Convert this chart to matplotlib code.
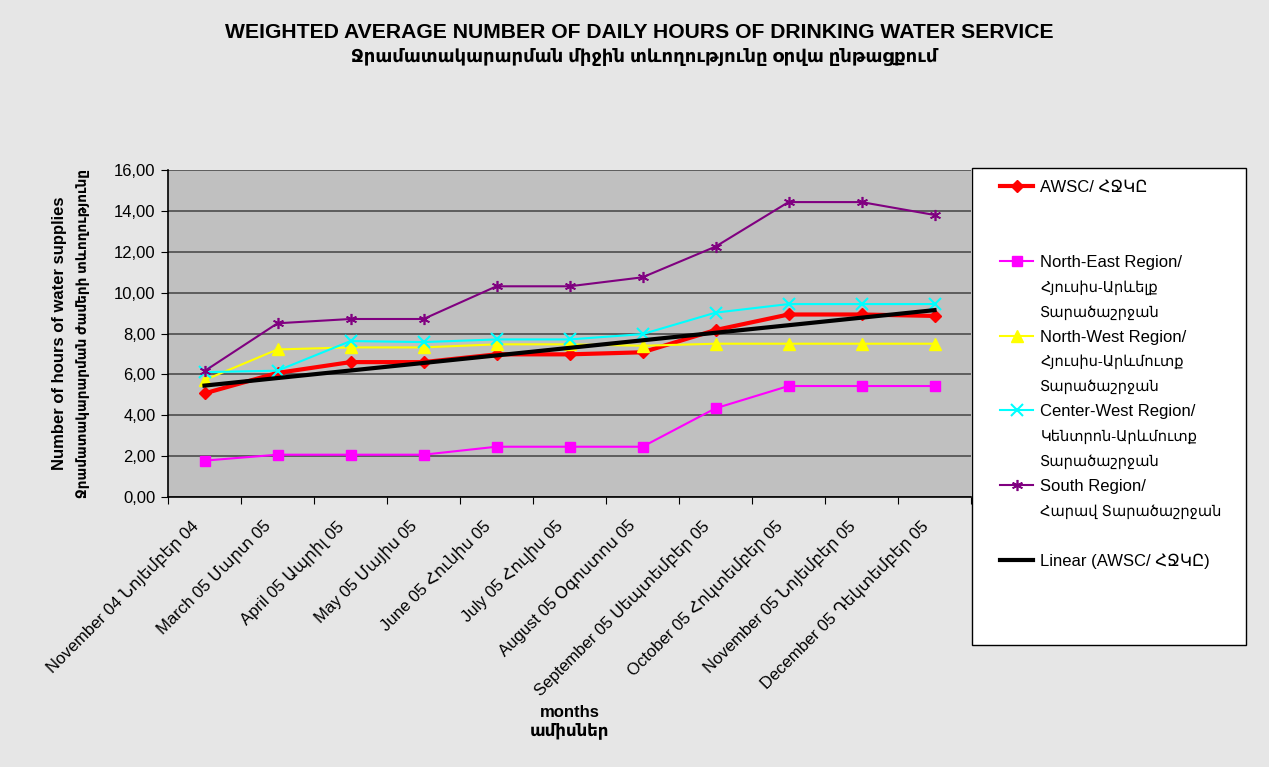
import numpy as np
import matplotlib.pyplot as plt
from matplotlib.lines import Line2D
from matplotlib.patches import Rectangle
from matplotlib.transforms import ScaledTranslation

plt.rcParams['font.family'] = ['Liberation Sans', 'DejaVu Sans']

# -------------------------
# Data
# -------------------------
months = ["November 04 Նոյեմբեր 04", "March 05 Մարտ 05", "April 05 Ապրիլ 05",
          "May 05 Մայիս 05", "June 05 Հունիս 05", "July 05 Հուլիս 05",
          "August 05 Օգոստոս 05", "September 05 Սեպտեմբեր 05",
          "October 05 Հոկտեմբեր 05", "November 05 Նոյեմբեր 05",
          "December 05 Դեկտեմբեր 05"]

awsc = [5.07, 6.07, 6.60, 6.60, 6.98, 6.98, 7.08, 8.17, 8.93, 8.93, 8.86]
north_east = [1.78, 2.07, 2.07, 2.07, 2.46, 2.46, 2.46, 4.34, 5.43, 5.43, 5.43]
north_west = [5.72, 7.22, 7.32, 7.32, 7.47, 7.47, 7.40, 7.50, 7.50, 7.50, 7.50]
center_west = [6.11, 6.18, 7.63, 7.58, 7.71, 7.71, 7.97, 9.02, 9.44, 9.44, 9.44]
south = [6.16, 8.50, 8.71, 8.71, 10.31, 10.31, 10.75, 12.25, 14.43, 14.43, 13.80]

series_labels = [
    ["AWSC/ ՀՋԿԸ"],
    ["North-East Region/", "Հյուսիս-Արևելք", "Տարածաշրջան"],
    ["North-West Region/", "Հյուսիս-Արևմուտք", "Տարածաշրջան"],
    ["Center-West Region/", "Կենտրոն-Արևմուտք", "Տարածաշրջան"],
    ["South Region/", "Հարավ Տարածաշրջան"],
]
trend_label = "Linear (AWSC/ ՀՋԿԸ)"

y_ticks = [0, 2, 4, 6, 8, 10, 12, 14, 16]

# styles per series
styles = [
    dict(color='#ff0000', lw=3.0, marker='D', ms=6.5),
    dict(color='#ff00ff', lw=1.5, marker='s', ms=7),
    dict(color='#ffff00', lw=1.5, marker='^', ms=8),
    dict(color='#00ffff', lw=1.5, marker='x', ms=8, mew=1.5),
    dict(color='#800080', lw=1.5, marker=(6, 2, 0), ms=8, mew=1.2),
]

# -------------------------
# Figure
# -------------------------
W, H = 1269, 767
fig = plt.figure(figsize=(W/100, H/100), dpi=100)
fig.patch.set_facecolor('#e6e6e6')
ax = fig.add_axes([168/W, 1-497/H, 803/W, 327/H])
ax.set_facecolor('#c0c0c0')

x = np.arange(len(months))
all_series = [awsc, north_east, north_west, center_west, south]
handles = []
for vals, st in zip(all_series, styles):
    h, = ax.plot(x, vals, **st)
    handles.append(h)

# linear trend of AWSC
coef = np.polyfit(x, awsc, 1)
trend, = ax.plot(x, np.polyval(coef, x), color='black', lw=3.0, zorder=5)

ax.set_xlim(-0.5, len(months) - 0.5)
ax.set_ylim(0, 16)
ax.set_yticks(y_ticks)
ax.set_yticklabels([f"{v:.2f}".replace('.', ',') for v in y_ticks])
ax.yaxis.grid(True, color='#555555', lw=1.3)
ax.set_axisbelow(True)

ax.set_xticks(np.arange(-0.5, len(months)))
ax.set_xticklabels([])
ax.set_xticks(x, minor=True)
ax.set_xticklabels(months, minor=True, rotation=45, ha='right', va='center',
                   rotation_mode='anchor', fontsize=12)
ax.tick_params(axis='x', which='minor', length=0, pad=19)
ax.tick_params(axis='x', which='major', length=5, direction='out')
ax.tick_params(axis='y', length=5, direction='out', labelsize=12, pad=4)
shift = ScaledTranslation(-0.09, 0, fig.dpi_scale_trans)
for lab in ax.get_xticklabels(minor=True):
    lab.set_transform(lab.get_transform() + shift)

for s in ['top', 'right']:
    ax.spines[s].set_visible(False)
for s in ['left', 'bottom']:
    ax.spines[s].set_color('black')
    ax.spines[s].set_linewidth(1.2)

# axis titles
ax.text((60-168)/803, 0.5, "Number of hours of water supplies", transform=ax.transAxes,
        rotation=90, ha='center', va='center', fontsize=12, fontweight='bold')
ax.text((83-168)/803, 0.5, "Ջրամատակարարման ժամերի տևողությունը", transform=ax.transAxes,
        rotation=90, ha='center', va='center', fontsize=9.8, fontweight='bold')
ax.set_xlabel("months\nամիսներ", fontsize=12, fontweight='bold')
ax.xaxis.set_label_coords(0.5, -0.635)

fig.text(0.504, 1-32/H, "WEIGHTED AVERAGE NUMBER OF DAILY HOURS OF DRINKING WATER SERVICE",
         ha='center', va='center', fontsize=15.2, fontweight='bold')
fig.text(0.508, 1-57/H, "Ջրամատակարարման միջին տևողությունը օրվա ընթացքում",
         ha='center', va='center', fontsize=13, fontweight='bold')

# legend: one row per text line, entries padded to three rows
blank = Line2D([], [], linestyle='none')
leg_handles, leg_texts, small_rows = [], [], []
for h, lines in zip(handles, series_labels):
    for i in range(3):
        leg_handles.append(h if i == 0 else blank)
        leg_texts.append(lines[i] if i < len(lines) else " ")
        if 0 < i < len(lines):
            small_rows.append(len(leg_texts) - 1)
leg_handles.append(trend)
leg_texts.append(trend_label)

fig.add_artist(Rectangle((972/W, 1-645/H), 274/W, 477/H, transform=fig.transFigure,
                         facecolor='white', edgecolor='black', lw=1.0, zorder=4))
leg = fig.legend(leg_handles, leg_texts, loc='upper left',
                 bbox_to_anchor=(1000/W, 1-180/H), bbox_transform=fig.transFigure,
                 fontsize=12, frameon=False, labelspacing=0.6,
                 handlelength=2.0, handletextpad=0.42, borderpad=0,
                 borderaxespad=0)
for i in small_rows:
    leg.get_texts()[i].set_fontsize(10.5)

fig.savefig("out.png", dpi=100, facecolor=fig.get_facecolor())
